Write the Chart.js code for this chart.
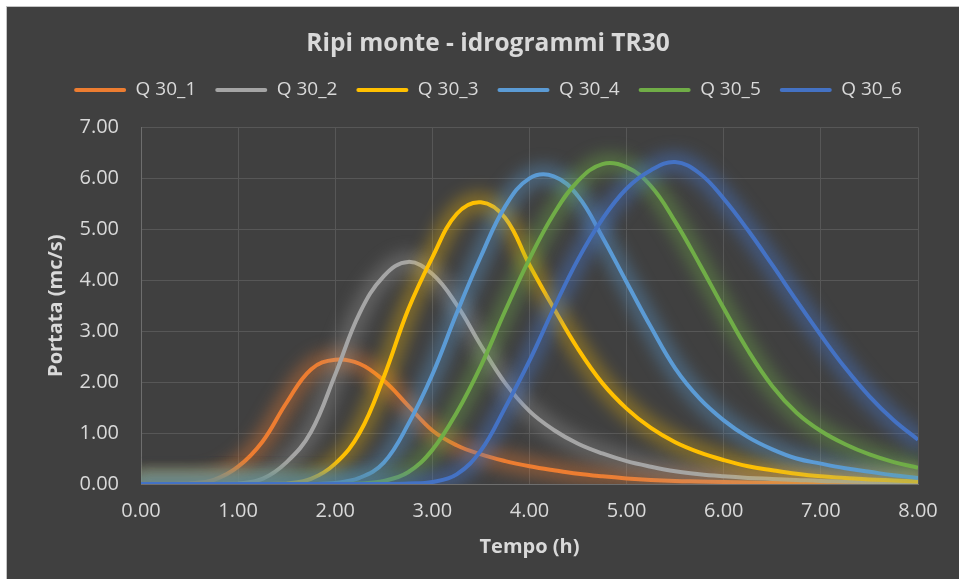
<!DOCTYPE html>
<html>
<head>
<meta charset="utf-8">
<script src="https://cdn.jsdelivr.net/npm/chart.js@4.4.1/dist/chart.umd.min.js"></script>
<style>
  html, body { margin: 0; padding: 0; background: #ffffff; overflow: hidden; }
  #wrap {
    position: absolute; left: 6px; top: 6px;
    width: 952px; height: 572px;
    background: #404040; border: 1px solid #c4c4c4;
  }
  #chart { display: block; }
</style>
</head>
<body>
<div id="wrap"><canvas id="chart" width="952" height="572"></canvas></div>
<script>
// === DATA ===
var tempo = [0, 0.25, 0.5, 0.75, 1, 1.25, 1.5, 1.75, 2, 2.25, 2.5, 2.75, 3, 3.25, 3.5, 3.75,
  4, 4.25, 4.5, 4.75, 5, 5.25, 5.5, 5.75, 6, 6.25, 6.5, 6.75, 7, 7.25, 7.5, 7.75, 8];

var q30_1 = [0, 0, 0.01, 0.08, 0.34, 0.83, 1.6, 2.25, 2.44, 2.36, 2.03, 1.54, 1.05, 0.76, 0.58, 0.45,
  0.35, 0.27, 0.2, 0.15, 0.11, 0.08, 0.06, 0.05, 0.04, 0.03, 0.02, 0.02, 0.01, 0.01, 0.01, 0.01, 0];
var q30_2 = [0, 0, 0, 0, 0.01, 0.1, 0.43, 1.02, 2.15, 3.35, 4.08, 4.36, 4.12, 3.52, 2.72, 1.98,
  1.43, 1.06, 0.79, 0.6, 0.45, 0.34, 0.25, 0.19, 0.15, 0.12, 0.1, 0.08, 0.06, 0.05, 0.04, 0.03, 0.02];
var q30_3 = [0, 0, 0, 0, 0, 0, 0.01, 0.1, 0.4, 1.0, 2.1, 3.42, 4.45, 5.3, 5.53, 5.22,
  4.3, 3.45, 2.65, 1.98, 1.48, 1.1, 0.82, 0.62, 0.47, 0.35, 0.27, 0.2, 0.15, 0.12, 0.09, 0.07, 0.05];
var q30_4 = [0, 0, 0, 0, 0, 0, 0, 0, 0.02, 0.12, 0.42, 1.17, 2.15, 3.35, 4.47, 5.45,
  6.0, 6.04, 5.65, 4.85, 3.96, 3.08, 2.27, 1.68, 1.25, 0.92, 0.68, 0.5, 0.4, 0.31, 0.24, 0.17, 0.12];
var q30_5 = [0, 0, 0, 0, 0, 0, 0, 0, 0, 0.01, 0.06, 0.23, 0.67, 1.4, 2.32, 3.4,
  4.42, 5.3, 5.95, 6.28, 6.22, 5.85, 5.15, 4.32, 3.45, 2.62, 1.92, 1.4, 1.04, 0.78, 0.58, 0.43, 0.32];
var q30_6 = [0, 0, 0, 0, 0, 0, 0, 0, 0, 0, 0, 0.01, 0.04, 0.19, 0.66, 1.5,
  2.42, 3.45, 4.41, 5.2, 5.8, 6.16, 6.32, 6.1, 5.6, 4.98, 4.3, 3.6, 2.92, 2.28, 1.72, 1.25, 0.87];

var seriesNames = ['Q 30_1', 'Q 30_2', 'Q 30_3', 'Q 30_4', 'Q 30_5', 'Q 30_6'];
var seriesValues = [q30_1, q30_2, q30_3, q30_4, q30_5, q30_6];
var seriesColors = ['#ed7d31', '#a5a5a5', '#ffc000', '#5b9bd5', '#70ad47', '#4472c4'];
var glowColors = ['rgba(237,125,49,0.4)', 'rgba(165,165,165,0.34)', 'rgba(255,192,0,0.34)',
  'rgba(91,155,213,0.4)', 'rgba(112,173,71,0.4)', 'rgba(68,114,196,0.48)'];

var xTicks = [0, 1, 2, 3, 4, 5, 6, 7, 8];
var yTicks = [0, 1, 2, 3, 4, 5, 6, 7];

var TEXT = '#d9d9d9';
var FONT = '"Open Sans", "Noto Sans", sans-serif';

// === GLOW (soft halo behind each line, like the Excel effect) ===
// strokes the dataset's own path wide and blurred, right before the line is drawn
var glowPlugin = {
  id: 'glow',
  beforeDatasetDraw: function(chart, args) {
    var ctx = chart.ctx;
    var line = args.meta.dataset;
    var area = chart.chartArea;
    if (!line || !line.points || !line.points.length) return;
    ctx.save();
    ctx.beginPath();
    ctx.rect(area.left, area.top, area.right - area.left, area.bottom - area.top);
    ctx.clip();
    ctx.filter = 'blur(8px)';
    ctx.strokeStyle = glowColors[args.index];
    ctx.lineWidth = 20;
    ctx.lineJoin = 'round';
    ctx.lineCap = 'round';
    ctx.beginPath();
    line.path(ctx);
    ctx.stroke();
    ctx.restore();
  }
};

var datasets = seriesValues.map(function(vals, i) {
  return {
    label: seriesNames[i],
    data: vals.map(function(v, j) { return { x: tempo[j], y: v }; }),
    borderColor: seriesColors[i],
    backgroundColor: seriesColors[i],
    borderWidth: 4,
    pointRadius: 0,
    pointHoverRadius: 0,
    tension: 0.4,
    fill: false,
    // later series on top, as in the original
    order: seriesValues.length - i
  };
});

new Chart(document.getElementById('chart'), {
  type: 'line',
  data: { datasets: datasets },
  plugins: [glowPlugin],
  options: {
    responsive: false,
    animation: false,
    events: [],
    layout: { padding: { left: 10, right: 0, top: 0, bottom: 0 } },
    plugins: {
      tooltip: { enabled: false },
      title: {
        display: true,
        text: 'Ripi monte - idrogrammi TR30',
        color: TEXT,
        font: { family: FONT, size: 24.5, weight: 'bold' },
        padding: { top: 22, bottom: 3 }
      },
      legend: {
        display: true,
        position: 'top',
        labels: {
          color: TEXT,
          font: { family: FONT, size: 19 },
          boxWidth: 52,
          boxHeight: 4,
          padding: 19,
          sort: function(a, b) { return a.datasetIndex - b.datasetIndex; },
          generateLabels: function(chart) {
            var items = Chart.defaults.plugins.legend.labels.generateLabels(chart);
            items.forEach(function(it) {
              it.lineWidth = 0;
              it.fillStyle = seriesColors[it.datasetIndex];
              it.borderRadius = 2;
            });
            return items;
          }
        }
      }
    },
    scales: {
      x: {
        type: 'linear',
        min: 0, max: 8,
        afterBuildTicks: function(s) { s.ticks = xTicks.map(function(v) { return { value: v }; }); },
        afterFit: function(s) { s.height = 95; },
        grid: { color: '#575757', lineWidth: 1, drawTicks: false },
        border: { color: '#6e6e6e' },
        ticks: {
          color: TEXT, padding: 15,
          font: { family: FONT, size: 20 },
          callback: function(v) { return v.toFixed(2); }
        },
        title: {
          display: true, text: 'Tempo (h)', color: TEXT,
          font: { family: FONT, size: 20, weight: 'bold' },
          padding: { top: 0, bottom: 20 }
        }
      },
      y: {
        min: 0, max: 7,
        afterBuildTicks: function(s) { s.ticks = yTicks.map(function(v) { return { value: v }; }); },
        afterFit: function(s) { s.width = 124; },
        grid: { color: '#575757', lineWidth: 1, drawTicks: false },
        border: { color: '#6e6e6e' },
        ticks: {
          color: TEXT, padding: 22,
          font: { family: FONT, size: 20 },
          callback: function(v) { return v.toFixed(2); }
        },
        title: {
          display: true, text: 'Portata (mc/s)', color: TEXT,
          font: { family: FONT, size: 20, weight: 'bold' },
          padding: { top: 27, bottom: 0 }
        }
      },
      // spacer axes that only reserve room above and right of the plot
      topGap: {
        type: 'linear', position: 'top', display: true,
        grid: { display: false }, border: { display: false }, ticks: { display: false },
        afterFit: function(s) { s.height = 18; }
      },
      rightGap: {
        type: 'linear', position: 'right', display: true,
        grid: { display: false }, border: { display: false }, ticks: { display: false },
        afterFit: function(s) { s.width = 41; }
      }
    }
  }
});
</script>
</body>
</html>
